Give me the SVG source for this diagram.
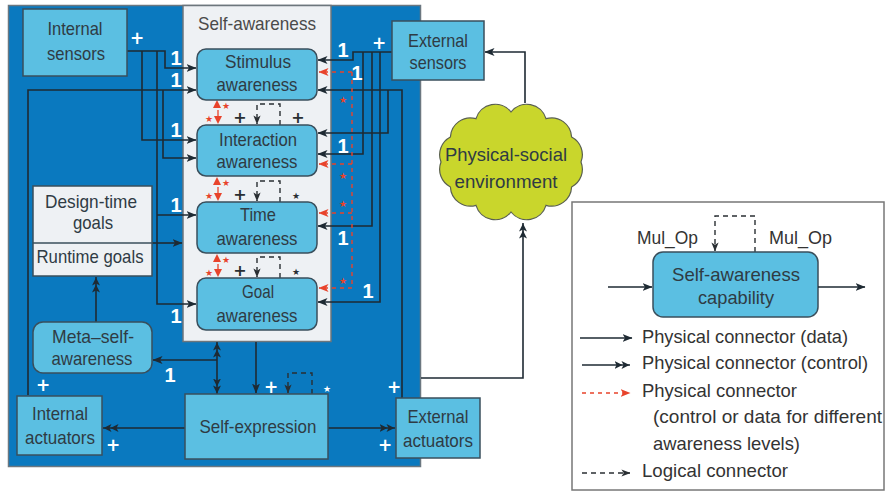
<svg xmlns="http://www.w3.org/2000/svg" width="886" height="492" viewBox="0 0 886 492">
<defs>
<style>
.t{font-family:"Liberation Sans Narrow","Liberation Sans",Arial,sans-serif;font-size:19px;fill:#2f3b44;text-anchor:middle}
.lg{font-family:"Liberation Sans Narrow","Liberation Sans",Arial,sans-serif;font-size:18.5px;fill:#333;text-anchor:start}
.w{font-family:"Liberation Sans Narrow","Liberation Sans",Arial,sans-serif;font-size:20px;font-weight:bold;fill:#fff;text-anchor:middle}
.pl{font-family:"DejaVu Sans",sans-serif;font-size:17px;font-weight:bold;fill:#fff;text-anchor:middle}
.st{font-family:"DejaVu Sans",sans-serif;font-size:9px;text-anchor:middle}
.box{fill:#5bbfe2;stroke:#3a4f5c;stroke-width:1.5}
.gbox{fill:#eef1f4;stroke:#3a4f5c;stroke-width:1.5}
.c{fill:none;stroke:#1e2a33;stroke-width:1.6}
.r{fill:none;stroke:#e8432b;stroke-width:1.4;stroke-dasharray:4 4}
.d{fill:none;stroke:#2a2f33;stroke-width:1.4;stroke-dasharray:5 4}
</style>
<marker id="ah" viewBox="0 0 10 8" refX="9.5" refY="4" markerWidth="10" markerHeight="8" orient="auto" markerUnits="userSpaceOnUse"><path d="M0,0 L10,4 L0,8 L2.5,4z" fill="#1e2a33"/></marker>
<marker id="a2" viewBox="0 0 16 8" refX="15.5" refY="4" markerWidth="16" markerHeight="8" orient="auto-start-reverse" markerUnits="userSpaceOnUse"><path d="M0,0 L8,4 L0,8 L2,4z M7,0 L15,4 L7,8 L9,4z" fill="#1e2a33"/></marker>
<marker id="ar" viewBox="0 0 10 8" refX="9.5" refY="4" markerWidth="10" markerHeight="8" orient="auto" markerUnits="userSpaceOnUse"><path d="M0,0 L10,4 L0,8 L2.5,4z" fill="#e8432b"/></marker>
<marker id="ad" viewBox="0 0 10 8" refX="9.5" refY="4" markerWidth="9" markerHeight="8" orient="auto" markerUnits="userSpaceOnUse"><path d="M0,0 L10,4 L0,8 L2.5,4z" fill="#2a2f33"/></marker>
</defs>

<g id="system">
<rect x="8.5" y="5.5" width="412" height="461" fill="#0a79bf" stroke="#6b7780" stroke-width="1.5"/>
</g>
<g id="self-awareness">
<rect x="183" y="5.5" width="148" height="336" fill="#eef1f4" stroke="#6d767c" stroke-width="1.5"/>
<text class="t" x="257" y="30" textLength="118" lengthAdjust="spacingAndGlyphs" fill="#4a4a4a" style="fill:#4a4a4a">Self-awareness</text>
</g>

<g id="connectors">
<path class="c" marker-end="url(#ah)" d="M127,51 H165 V68 H196"/>
<path class="c" marker-end="url(#ah)" d="M142,51 V140 H196"/>
<path class="c" marker-end="url(#ah)" d="M157,51 V304 H196"/>
<path class="c" marker-end="url(#ah)" d="M157,215 H196"/>
<path class="c" marker-end="url(#ah)" d="M28,395 V90 H196"/>
<path class="c" marker-end="url(#ah)" d="M163,90 V158 H196"/>
<path class="c" marker-end="url(#ah)" d="M152,243 H182"/>
<path class="c" marker-end="url(#a2)" d="M96,322 V277"/>
<path class="c" marker-end="url(#ah)" d="M392,52 H353 V60 H318"/>
<path class="c" marker-end="url(#ah)" d="M363,52 V154 H318"/>
<path class="c" marker-end="url(#ah)" d="M372,52 V226 H318"/>
<path class="c" marker-end="url(#ah)" d="M380,52 V302 H318"/>
<path class="c" marker-end="url(#ah)" d="M402,398 V90 H318"/>
<path class="c" marker-end="url(#ah)" d="M388,90 V133 H318"/>
<path class="c" marker-start="url(#a2)" marker-end="url(#a2)" d="M217,342 V394"/>
<path class="c" marker-end="url(#ah)" d="M217,360 H153"/>
<path class="c" marker-end="url(#ah)" d="M256,342 V393"/>
<path class="c" marker-end="url(#a2)" d="M185,428 H103"/>
<path class="c" marker-end="url(#a2)" d="M328,428 H395"/>
<path class="c" stroke="#555" marker-end="url(#a2)" d="M421,378 H523 V223"/>
<path class="c" stroke="#555" marker-end="url(#ah)" d="M525,103 V52 H485"/>
<!-- red connectors -->
<path class="r" d="M352,72 V288"/>
<path class="r" marker-end="url(#ar)" d="M352,72 H319"/>
<path class="r" marker-end="url(#ar)" d="M352,164 H319"/>
<path class="r" marker-end="url(#ar)" d="M352,213 H319"/>
<path class="r" marker-end="url(#ar)" d="M352,288 H319"/>
<!-- logical loops -->
<path class="d" marker-end="url(#ad)" d="M280,125 V104 H257 V124"/>
<path class="d" marker-end="url(#ad)" d="M280,202 V181 H257 V201"/>
<path class="d" marker-end="url(#ad)" d="M280,278 V257 H257 V277"/>
<path class="d" marker-end="url(#ad)" d="M312,394 V373 H288 V393"/>
<!-- red inter-level arrows -->
<g fill="#e8432b">
<path d="M217,100 L221,108 L213,108z"/><path d="M218,124 L222,116 L214,116z"/>
<path d="M217,177 L221,185 L213,185z"/><path d="M218,201 L222,193 L214,193z"/>
<path d="M217,254 L221,262 L213,262z"/><path d="M218,277 L222,269 L214,269z"/>
</g>
<g stroke="#e8432b" stroke-width="1.3">
<line x1="218" y1="110" x2="218" y2="117"/><line x1="218" y1="187" x2="218" y2="194"/><line x1="218" y1="264" x2="218" y2="270"/>
</g>
<g class="st" style="fill:#e8432b">
<text class="st" x="226" y="109" fill="#e8432b">★</text><text class="st" x="209" y="122" fill="#e8432b">★</text>
<text class="st" x="226" y="186" fill="#e8432b">★</text><text class="st" x="209" y="199" fill="#e8432b">★</text>
<text class="st" x="226" y="263" fill="#e8432b">★</text><text class="st" x="209" y="276" fill="#e8432b">★</text>
<text class="st" x="343" y="103" fill="#e8432b">★</text><text class="st" x="343" y="179" fill="#e8432b">★</text>
<text class="st" x="343" y="207" fill="#e8432b">★</text><text class="st" x="343" y="284" fill="#e8432b">★</text>
</g>
<g font-family="DejaVu Sans,sans-serif" font-size="16" font-weight="bold" fill="#2a2f33" text-anchor="middle">
<text x="240" y="123">+</text><text x="298" y="123">+</text>
<text x="240" y="200">+</text><text x="240" y="276">+</text>
</g>
<g font-family="DejaVu Sans,sans-serif" font-size="9" fill="#2a2f33" text-anchor="middle">
<text x="296" y="199">★</text><text x="296" y="275">★</text>
</g>
</g>

<g id="labels-white">
<text class="pl" x="137" y="44">+</text>
<text class="pl" x="379" y="49">+</text>
<text class="pl" x="43" y="391">+</text>
<text class="pl" x="113" y="451">+</text>
<text class="pl" x="385" y="451">+</text>
<text class="pl" x="394" y="393">+</text>
<text class="pl" x="271" y="393">+</text>
<text x="327" y="392" font-family="DejaVu Sans,sans-serif" font-size="9" fill="#fff" text-anchor="middle">★</text>
<text class="w" x="176" y="65">1</text>
<text class="w" x="176" y="87">1</text>
<text class="w" x="176" y="137">1</text>
<text class="w" x="176" y="212">1</text>
<text class="w" x="176" y="323">1</text>
<text class="w" x="343" y="57">1</text>
<text class="w" x="357" y="80">1</text>
<text class="w" x="343" y="153">1</text>
<text class="w" x="343" y="245">1</text>
<text class="w" x="368" y="298">1</text>
<text class="w" x="170" y="382">1</text>
</g>

<g id="internal-sensors">
<rect class="box" x="23" y="9" width="104" height="67"/>
<text class="t" x="75" y="35" textLength="55" lengthAdjust="spacingAndGlyphs">Internal</text>
<text class="t" x="76" y="60" textLength="58" lengthAdjust="spacingAndGlyphs">sensors</text>
</g>
<g id="external-sensors">
<rect class="box" x="392" y="21" width="92" height="59"/>
<text class="t" x="438" y="47" textLength="60" lengthAdjust="spacingAndGlyphs">External</text>
<text class="t" x="438" y="69" textLength="57" lengthAdjust="spacingAndGlyphs">sensors</text>
</g>
<g id="stimulus-awareness">
<rect class="box" x="197" y="49" width="120" height="51" rx="9"/>
<text class="t" x="258" y="68" textLength="66" lengthAdjust="spacingAndGlyphs">Stimulus</text>
<text class="t" x="257" y="91" textLength="81" lengthAdjust="spacingAndGlyphs">awareness</text>
</g>
<g id="interaction-awareness">
<rect class="box" x="197" y="125" width="120" height="51" rx="9"/>
<text class="t" x="258" y="146" textLength="78" lengthAdjust="spacingAndGlyphs">Interaction</text>
<text class="t" x="257" y="168" textLength="81" lengthAdjust="spacingAndGlyphs">awareness</text>
</g>
<g id="time-awareness">
<rect class="box" x="197" y="202" width="120" height="51" rx="9"/>
<text class="t" x="258" y="221" textLength="36" lengthAdjust="spacingAndGlyphs">Time</text>
<text class="t" x="257" y="245" textLength="81" lengthAdjust="spacingAndGlyphs">awareness</text>
</g>
<g id="goal-awareness">
<rect class="box" x="197" y="278" width="120" height="52" rx="9"/>
<text class="t" x="258" y="298" textLength="32" lengthAdjust="spacingAndGlyphs">Goal</text>
<text class="t" x="257" y="322" textLength="81" lengthAdjust="spacingAndGlyphs">awareness</text>
</g>
<g id="goals">
<rect class="gbox" x="33" y="186" width="119" height="90"/>
<line x1="33" y1="243" x2="152" y2="243" stroke="#3a4f5c" stroke-width="1.5"/>
<text class="t" x="91" y="208" textLength="92" lengthAdjust="spacingAndGlyphs">Design-time</text>
<text class="t" x="93" y="229" textLength="40" lengthAdjust="spacingAndGlyphs">goals</text>
<text class="t" x="90" y="263" textLength="107" lengthAdjust="spacingAndGlyphs">Runtime goals</text>
</g>
<g id="meta-self-awareness">
<rect class="box" x="33" y="322" width="119" height="51" rx="10"/>
<text class="t" x="93" y="343" textLength="82" lengthAdjust="spacingAndGlyphs">Meta–self-</text>
<text class="t" x="92" y="365" textLength="81" lengthAdjust="spacingAndGlyphs">awareness</text>
</g>
<g id="internal-actuators">
<rect class="box" x="17" y="396" width="85" height="59"/>
<text class="t" x="60" y="420" textLength="56" lengthAdjust="spacingAndGlyphs">Internal</text>
<text class="t" x="60" y="444" textLength="70" lengthAdjust="spacingAndGlyphs">actuators</text>
</g>
<g id="self-expression">
<rect class="box" x="185" y="394" width="143" height="65"/>
<text class="t" x="258" y="433" textLength="117" lengthAdjust="spacingAndGlyphs">Self-expression</text>
</g>
<g id="external-actuators">
<rect class="box" x="396" y="398" width="84" height="60"/>
<text class="t" x="438" y="423" textLength="61" lengthAdjust="spacingAndGlyphs">External</text>
<text class="t" x="438" y="447" textLength="70" lengthAdjust="spacingAndGlyphs">actuators</text>
</g>
<g id="environment">
<path d="M581,162 A20,20 0 0 1 571.6,187 A20,20 0 0 1 546,205.3 A20,20 0 0 1 511,212 A20,20 0 0 1 476,205.3 A20,20 0 0 1 450.4,187 A20,20 0 0 1 441,162 A20,20 0 0 1 450.4,137 A20,20 0 0 1 476,118.7 A20,20 0 0 1 511,112 A20,20 0 0 1 546,118.7 A20,20 0 0 1 571.6,137 A20,20 0 0 1 581,162 Z" fill="#c9d62c" stroke="#5a6050" stroke-width="1.2"/>
<text class="t" x="506" y="161" textLength="122" lengthAdjust="spacingAndGlyphs">Physical-social</text>
<text class="t" x="506" y="188" textLength="103" lengthAdjust="spacingAndGlyphs">environment</text>
</g>

<g id="legend">
<rect x="572" y="202" width="312" height="288" fill="#fff" stroke="#777" stroke-width="1.5"/>
<text class="lg" x="637" y="244" textLength="61" lengthAdjust="spacingAndGlyphs">Mul_Op</text>
<text class="lg" x="769" y="244" textLength="63" lengthAdjust="spacingAndGlyphs">Mul_Op</text>
<path class="d" marker-end="url(#ad)" d="M755,252 V216 H715 V251"/>
<rect class="box" x="653" y="252" width="165" height="65" rx="10"/>
<text class="t" x="736" y="281" textLength="128" lengthAdjust="spacingAndGlyphs">Self-awareness</text>
<text class="t" x="736" y="304" textLength="76" lengthAdjust="spacingAndGlyphs">capability</text>
<path class="c" stroke="#333" marker-end="url(#ah)" d="M608,287 H652"/>
<path class="c" stroke="#333" marker-end="url(#ah)" d="M818,287 H865"/>
<path class="c" stroke="#333" marker-end="url(#ah)" d="M580,338 H632"/>
<text class="lg" x="642" y="343" textLength="206" lengthAdjust="spacingAndGlyphs">Physical connector (data)</text>
<path class="c" stroke="#333" marker-end="url(#a2)" d="M582,365 H630"/>
<text class="lg" x="642" y="369" textLength="226" lengthAdjust="spacingAndGlyphs">Physical connector (control)</text>
<path class="r" marker-end="url(#ar)" d="M582,393 H630"/>
<text class="lg" x="642" y="397" textLength="155" lengthAdjust="spacingAndGlyphs">Physical connector</text>
<text class="lg" x="653" y="423" textLength="229" lengthAdjust="spacingAndGlyphs">(control or data for different</text>
<text class="lg" x="653" y="450" textLength="147" lengthAdjust="spacingAndGlyphs">awareness levels)</text>
<path class="d" stroke="#555" marker-end="url(#ad)" d="M582,473 H630"/>
<text class="lg" x="642" y="477" textLength="146" lengthAdjust="spacingAndGlyphs">Logical connector</text>
</g>
</svg>
